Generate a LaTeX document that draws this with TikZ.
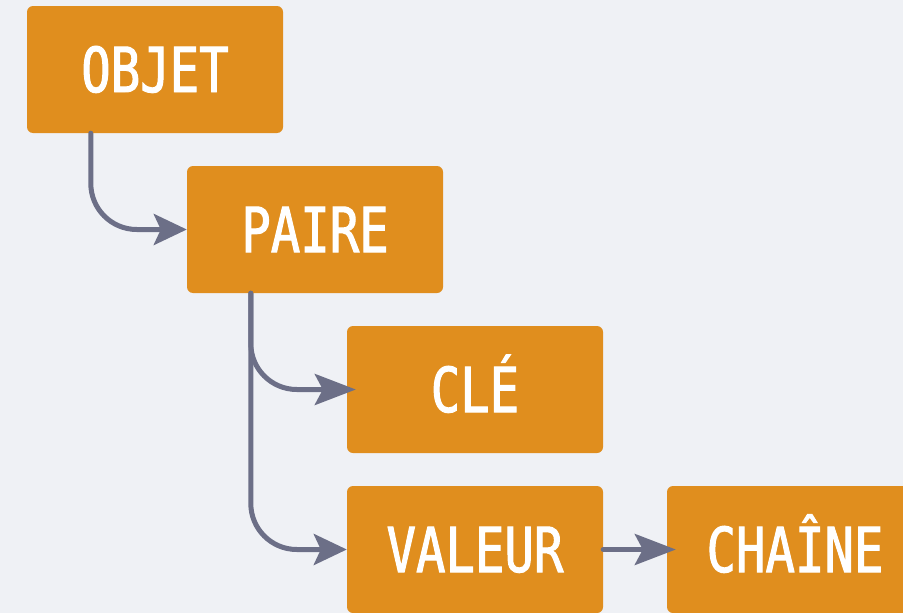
\documentclass[tikz,border=0pt]{standalone}
\usepackage{fontspec}
\newfontfamily\boxfont[FakeStretch=0.79,FakeBold=1.6]{DejaVu Sans Mono}
\usetikzlibrary{arrows.meta,calc}
\definecolor{bg}{HTML}{EFF1F5}
\definecolor{boxc}{HTML}{E08E1E}
\definecolor{connc}{HTML}{6C6F87}
\tikzset{
  box/.style={fill=boxc, rounded corners=6pt, minimum width=256pt, minimum height=127pt,
    inner sep=0pt, text=white, font=\boxfont\fontsize{62}{62}\selectfont,
    text height=45pt, text depth=0pt},
  link/.style={draw=connc, line width=5pt, line cap=round,
    -{Stealth[length=33pt,width=31pt,inset=7pt]}},
  longtip/.style={-{Stealth[length=41pt,width=31pt,inset=8pt]}},
}
\begin{document}
\begin{tikzpicture}[x=1pt,y=-1pt]
\fill[bg] (0,0) rectangle (903,613);
\useasboundingbox (0,0) rectangle (903,613);
\node[box] (objet) at (155,69.5) {OBJET};
\node[box] (paire) at (315,229.5) {PAIRE};
\node[box] (cle) at (475,389.5) {CLÉ};
\node[box] (valeur) at (475,549.5) {VALEUR};
\node[box] (chaine) at (795,549.5) {CHAÎNE};
\draw[link] ($(objet.south west)+(64,0)$) [rounded corners=46pt] |- (paire.west);
\draw[link,longtip] ($(paire.south west)+(64,0)$) [rounded corners=46pt] |- ([xshift=9pt]cle.west);
\draw[link] ($(paire.south west)+(64,0)$) [rounded corners=46pt] |- (valeur.west);
\draw[link,longtip] (valeur.east) -- ([xshift=9pt]chaine.west);
\end{tikzpicture}
\end{document}
